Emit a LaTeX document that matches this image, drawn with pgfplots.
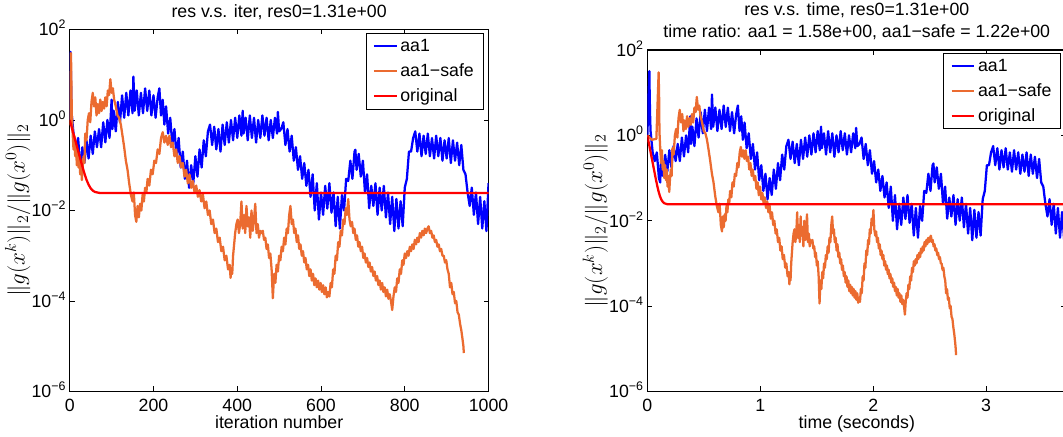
\documentclass[border=0pt]{standalone}
\usepackage{fontspec}
\setmainfont{Liberation Sans}
\usepackage{pgfplots}
\pgfplotsset{compat=1.18}
\usepackage{pgfplotstable}
\definecolor{mblue}{RGB}{0,0,255}
\definecolor{morange}{RGB}{235,107,48}
\definecolor{mred}{RGB}{255,0,0}

\pgfplotstableread{
i t v
0 0 1
1 0.008 5.0
2 0.018 32
3 0.021 7.9
4 0.025 2.5
5 0.0285 1.26
10 0.047 0.40
15 0.0655 0.25
20 0.084 0.40
25 0.1025 0.10
28 0.1136 0.079
30 0.121 0.25
35 0.1395 0.112
40 0.158 0.35
45 0.1765 0.141
50 0.195 0.45
55 0.2135 0.178
60 0.232 0.56
65 0.2505 0.25
70 0.269 0.63
75 0.2875 0.25
80 0.306 0.89
85 0.3245 0.32
90 0.343 1.0
95 0.3615 0.40
100 0.38 2.8
102 0.3874 0.63
105 0.3985 1.6
110 0.417 0.56
115 0.4355 2.5
120 0.454 0.89
125 0.4725 3.5
130 0.491 1.12
135 0.5095 4.0
140 0.528 1.26
145 0.5465 4.5
150 0.565 1.41
152 0.5724 9.1
155 0.5835 1.6
160 0.602 4.5
165 0.6205 1.26
170 0.639 3.98
175 0.6575 1.41
180 0.676 5.0
185 0.6945 1.58
190 0.713 4.47
195 0.7315 1.26
200 0.75 3.5
205 0.7685 1.12
210 0.787 3.16
214 0.8018 5.0
218 0.8166 1.26
222 0.8314 2.8
226 0.8462 0.79
230 0.861 2.0
235 0.8795 0.50
240 0.898 1.12
245 0.9165 0.28
250 0.935 0.63
255 0.9535 0.158
260 0.972 0.40
265 0.9905 0.089
270 1.009 0.20
275 1.0275 5.0e-2
280 1.046 0.126
285 1.0645 3.16e-2
290 1.083 0.10
295 1.1015 4.0e-2
300 1.12 0.158
305 1.1385 5.6e-2
310 1.157 0.224
315 1.1755 8.9e-2
320 1.194 0.355
325 1.2125 0.158
330 1.231 0.56
335 1.2495 0.79
340 1.268 0.28
345 1.2865 0.71
350 1.305 0.224
355 1.3235 0.63
360 1.342 0.20
365 1.3605 0.79
370 1.379 0.28
375 1.3975 0.89
380 1.416 0.316
385 1.4345 1.0
390 1.453 0.355
395 1.4715 1.12
400 1.49 0.40
405 1.5085 1.26
410 1.527 0.45
413 1.5381 1.6
415 1.5455 0.50
420 1.564 1.12
425 1.5825 0.355
430 1.601 1.26
435 1.6195 0.40
440 1.638 1.12
445 1.6565 0.316
450 1.675 1.0
455 1.6935 0.40
460 1.712 1.26
465 1.7305 0.45
470 1.749 1.12
475 1.7675 0.355
480 1.786 1.0
485 1.8045 0.40
490 1.823 1.12
495 1.8415 0.50
497 1.8489 1.5
500 1.86 0.56
505 1.8785 0.63
510 1.897 0.89
515 1.9155 0.28
520 1.934 0.63
525 1.9525 0.20
530 1.971 0.45
535 1.9895 0.126
540 2.008 0.25
545 2.0265 0.079
550 2.045 0.158
555 2.0635 5.0e-2
560 2.082 0.112
565 2.1005 3.5e-2
570 2.119 7.9e-2
575 2.1375 2.0e-2
580 2.156 6.3e-2
585 2.1745 1.0e-2
590 2.193 4.0e-2
595 2.2115 6.3e-3
600 2.23 2.5e-2
605 2.2485 8.0e-3
610 2.267 3.5e-2
615 2.2855 1.1e-2
620 2.304 4.0e-2
625 2.3225 8.9e-3
630 2.341 2.5e-2
635 2.3595 4.5e-3
640 2.378 2.0e-2
645 2.3965 4.0e-3
650 2.415 2.2e-2
655 2.4335 1.0e-2
660 2.452 5.0e-2
665 2.4705 4.5e-2
670 2.489 0.126
675 2.5075 5.0e-2
680 2.526 0.20
682 2.5334 0.22
685 2.5445 7.9e-2
690 2.563 0.178
695 2.5815 5.6e-2
700 2.6 0.126
705 2.6185 2.5e-2
710 2.637 6.3e-2
715 2.6555 1.12e-2
720 2.674 3.5e-2
725 2.6925 1.26e-2
730 2.711 4.0e-2
735 2.7295 8.0e-3
740 2.748 3.2e-2
745 2.7665 1.0e-2
750 2.785 3.5e-2
755 2.8035 7.0e-3
760 2.822 2.5e-2
765 2.8405 5.0e-3
770 2.859 2.0e-2
775 2.8775 3.5e-3
780 2.896 1.8e-2
785 2.9145 4.0e-3
790 2.933 1.6e-2
795 2.9515 4.5e-3
800 2.97 3.2e-2
805 2.9885 5.0e-2
810 3.007 0.20
815 3.0255 0.20
820 3.044 0.40
825 3.0625 0.56
830 3.081 0.20
835 3.0995 0.50
840 3.118 0.158
845 3.1365 0.45
850 3.155 0.178
855 3.1735 0.50
860 3.192 0.158
865 3.2105 0.40
870 3.229 0.141
875 3.2475 0.45
880 3.266 0.158
885 3.2845 0.40
890 3.303 0.126
895 3.3215 0.355
900 3.34 0.141
905 3.3585 0.40
910 3.377 0.112
915 3.3955 0.355
920 3.414 0.126
925 3.4325 0.316
930 3.451 0.10
935 3.4695 0.28
940 3.488 0.079
945 3.5065 6.3e-2
950 3.525 2.5e-2
955 3.5435 1.26e-2
960 3.562 3.2e-2
965 3.5805 8.0e-3
970 3.599 2.5e-2
975 3.6175 5.0e-3
980 3.636 2.0e-2
985 3.6545 4.0e-3
990 3.673 1.6e-2
995 3.6915 3.5e-3
1000 3.71 4.0e-2
}\aaone

\pgfplotstableread{
i t v
0 0 1
1 0.04 0.79
2 0.08 0.83
3 0.10 30
4 0.105 6.3
5 0.107 1.26
7 0.114 0.50
9 0.122 0.224
11 0.129 0.447
13 0.136 0.158
15 0.143 0.251
17 0.150 0.10
19 0.158 0.20
21 0.165 8.9e-2
23 0.172 0.158
25 0.179 6.3e-2
27 0.186 0.112
29 0.194 4.7e-2
31 0.201 0.10
33 0.208 0.158
35 0.215 0.112
37 0.222 0.50
40 0.233 0.355
43 0.244 1.0
46 0.255 1.41
49 0.266 0.89
52 0.276 2.51
55 0.287 3.98
58 0.298 2.0
61 0.309 3.16
64 0.320 1.26
67 0.330 2.24
70 0.341 1.41
73 0.352 2.82
76 0.363 1.58
79 0.374 2.51
82 0.384 1.78
85 0.395 3.16
88 0.406 2.0
91 0.417 4.47
94 0.428 3.55
97 0.438 7.94
100 0.449 3.98
103 0.460 5.0
106 0.471 2.82
110 0.485 2.0
114 0.500 1.26
118 0.514 1.12
122 0.528 0.794
126 0.543 0.447
130 0.557 0.251
134 0.572 0.126
138 0.586 7.94e-2
142 0.600 3.98e-2
146 0.615 2.24e-2
150 0.629 1.58e-2
153 0.640 2.51e-2
156 0.651 7.94e-3
159 0.661 5.62e-3
162 0.669 1.26e-2
165 0.677 7.08e-3
168 0.685 1.41e-2
171 0.693 1.0e-2
174 0.701 2.24e-2
177 0.709 1.58e-2
180 0.717 3.16e-2
183 0.725 2.51e-2
186 0.733 5.0e-2
190 0.744 3.55e-2
194 0.754 7.94e-2
198 0.765 6.31e-2
202 0.775 0.126
206 0.786 0.112
210 0.797 0.224
214 0.807 0.178
218 0.818 0.398
222 0.828 0.537
226 0.839 0.316
230 0.850 0.447
234 0.860 0.282
238 0.871 0.447
242 0.881 0.251
246 0.892 0.316
250 0.903 0.158
254 0.913 0.224
258 0.924 0.112
262 0.934 0.158
266 0.945 8.91e-2
270 0.956 0.112
274 0.966 5.62e-2
278 0.977 7.94e-2
282 0.987 3.98e-2
286 0.998 6.31e-2
290 1.009 3.16e-2
294 1.019 4.47e-2
298 1.030 2.51e-2
302 1.040 3.55e-2
306 1.051 2.0e-2
310 1.062 2.82e-2
314 1.072 1.58e-2
318 1.083 2.24e-2
322 1.093 1.12e-2
326 1.104 1.58e-2
330 1.115 7.94e-3
334 1.125 1.0e-2
338 1.136 5.0e-3
342 1.146 6.31e-3
346 1.157 3.16e-3
350 1.168 3.98e-3
354 1.178 2.0e-3
358 1.189 2.51e-3
362 1.199 1.26e-3
366 1.210 1.58e-3
370 1.221 7.94e-4
374 1.231 1.0e-3
378 1.242 5.0e-4
382 1.252 6.31e-4
384 1.258 3.24e-4
386 1.263 5.0e-4
388 1.268 3.98e-4
390 1.274 1.0e-3
392 1.279 1.58e-3
395 1.287 3.16e-3
398 1.295 5.0e-3
401 1.303 6.31e-3
404 1.311 3.16e-3
407 1.319 5.0e-3
410 1.327 1.58e-2
413 1.334 3.98e-3
416 1.342 7.94e-3
419 1.350 3.16e-3
422 1.358 1.26e-2
425 1.366 4.47e-3
428 1.374 7.08e-3
431 1.382 2.51e-3
434 1.390 1.0e-2
437 1.398 3.55e-3
440 1.406 6.31e-3
443 1.414 1.41e-2
446 1.422 3.16e-3
449 1.430 5.0e-3
452 1.438 2.51e-3
455 1.446 3.55e-3
458 1.454 3.16e-3
461 1.462 3.55e-3
464 1.470 2.24e-3
467 1.478 2.51e-3
470 1.486 1.41e-3
473 1.493 1.78e-3
476 1.501 8.91e-4
479 1.509 1.12e-3
482 1.517 5.0e-4
485 1.525 1.15e-4
488 1.533 3.98e-4
491 1.541 2.51e-4
494 1.549 6.31e-4
497 1.557 4.47e-4
500 1.565 1.0e-3
503 1.573 7.94e-4
506 1.581 1.58e-3
509 1.589 1.26e-3
512 1.597 2.51e-3
515 1.605 1.78e-3
518 1.613 3.98e-3
521 1.621 3.16e-3
524 1.629 7.94e-3
527 1.637 1.26e-2
530 1.645 5.0e-3
533 1.652 6.31e-3
536 1.660 3.16e-3
539 1.668 3.98e-3
542 1.676 2.0e-3
545 1.684 2.82e-3
548 1.692 1.41e-3
551 1.700 1.78e-3
554 1.708 1.0e-3
557 1.716 1.26e-3
560 1.724 7.08e-4
563 1.732 8.91e-4
566 1.740 5.0e-4
569 1.748 6.31e-4
572 1.756 3.55e-4
575 1.764 5.0e-4
578 1.772 2.82e-4
581 1.780 3.98e-4
584 1.788 2.24e-4
587 1.796 3.16e-4
590 1.804 2.0e-4
593 1.811 2.82e-4
596 1.819 1.78e-4
599 1.827 2.51e-4
602 1.835 1.58e-4
605 1.843 2.24e-4
608 1.851 1.41e-4
611 1.859 2.0e-4
614 1.867 1.2e-4
617 1.875 1.58e-4
620 1.883 1.26e-4
623 1.891 2.51e-4
626 1.899 2.0e-4
629 1.907 5.0e-4
632 1.915 3.98e-4
635 1.923 1.0e-3
638 1.931 7.94e-4
641 1.939 2.0e-3
644 1.947 1.58e-3
647 1.955 3.55e-3
650 1.963 2.82e-3
653 1.970 6.31e-3
656 1.978 5.0e-3
659 1.986 1.12e-2
662 1.994 7.94e-3
665 2.002 1.78e-2
668 2.010 6.31e-3
671 2.018 4.47e-3
674 2.026 5.62e-3
677 2.034 3.16e-3
680 2.042 3.98e-3
683 2.050 2.24e-3
686 2.058 2.82e-3
689 2.066 1.58e-3
692 2.074 2.0e-3
695 2.082 1.26e-3
698 2.090 1.58e-3
701 2.098 8.91e-4
704 2.106 1.12e-3
707 2.114 7.08e-4
710 2.122 8.91e-4
713 2.129 5.62e-4
716 2.137 7.08e-4
719 2.145 4.47e-4
722 2.153 5.62e-4
725 2.161 3.55e-4
728 2.169 4.47e-4
731 2.177 2.82e-4
734 2.185 3.55e-4
737 2.193 2.24e-4
740 2.201 2.82e-4
743 2.209 1.78e-4
746 2.217 2.51e-4
749 2.225 1.58e-4
752 2.233 2.0e-4
755 2.241 1.26e-4
758 2.249 1.78e-4
761 2.257 1.12e-4
764 2.265 1.41e-4
767 2.273 1.0e-4
770 2.281 6.31e-5
773 2.288 1.26e-4
776 2.296 2.0e-4
779 2.304 1.58e-4
782 2.312 3.16e-4
785 2.320 2.51e-4
788 2.328 5.0e-4
791 2.336 3.98e-4
794 2.344 7.94e-4
797 2.352 6.31e-4
800 2.360 1.12e-3
803 2.368 8.91e-4
806 2.376 1.26e-3
809 2.384 1.0e-3
812 2.392 1.58e-3
815 2.400 1.26e-3
818 2.408 1.78e-3
821 2.416 1.41e-3
824 2.424 2.24e-3
827 2.432 1.78e-3
830 2.440 2.51e-3
833 2.447 2.0e-3
836 2.455 3.16e-3
839 2.463 2.51e-3
842 2.471 3.55e-3
845 2.479 2.82e-3
848 2.487 3.98e-3
851 2.495 3.16e-3
854 2.503 3.98e-3
857 2.511 4.47e-3
860 2.519 3.16e-3
863 2.527 3.55e-3
866 2.535 2.51e-3
869 2.543 2.82e-3
872 2.551 2.0e-3
875 2.559 2.24e-3
878 2.567 1.58e-3
881 2.575 1.78e-3
884 2.583 1.26e-3
887 2.591 1.41e-3
890 2.599 1.0e-3
893 2.606 1.0e-3
896 2.614 7.08e-4
899 2.622 7.94e-4
902 2.630 5.0e-4
905 2.638 3.98e-4
908 2.646 2.0e-4
911 2.654 2.51e-4
914 2.662 1.41e-4
917 2.670 1.58e-4
920 2.678 8.91e-5
923 2.686 1.0e-4
926 2.694 5.62e-5
929 2.702 5.0e-5
932 2.710 3.16e-5
935 2.718 2.24e-5
938 2.726 1.41e-5
940 2.731 1.0e-5
941 2.734 7.08e-6
}\aasafe

\pgfplotstableread{
i t v
0 0 1
5 0.0125 0.676
10 0.025 0.457
15 0.0375 0.309
20 0.05 0.209
25 0.0625 0.141
30 0.075 9.55e-2
35 0.0875 6.61e-2
40 0.10 4.79e-2
45 0.1125 3.72e-2
50 0.125 3.09e-2
55 0.1375 2.75e-2
60 0.15 2.57e-2
70 0.175 2.45e-2
80 0.2 2.43e-2
1000 3.71 2.43e-2
}\orig

\begin{document}
\begin{tikzpicture}[x=1pt,y=1pt]
\path[use as bounding box] (0,0) rectangle (797.25,327);
\clip (0,0) rectangle (797.25,327);
\begin{axis}[
  scale only axis,
  at={(52.3pt,33.4pt)}, anchor=south west,
  width=314.1pt, height=271.5pt,
  ymode=log, ymin=1e-6, ymax=1e2,
  ytick={1e-6,1e-4,1e-2,1,1e2},
  yticklabels={10\textsuperscript{−6},10\textsuperscript{−4},10\textsuperscript{−2},10\textsuperscript{0},10\textsuperscript{2}},
  yminorticks=false, xminorticks=false,
  tick align=inside, major tick length=3.75pt,
  tick style={black, line width=0.6pt},
  axis line style={line width=0.9pt},
  /pgf/number format/assume math mode=true,
  /pgf/number format/1000 sep={},
  tick label style={font=\fontsize{13.3}{16}\selectfont},
  xticklabel style={anchor=base, yshift=-14.8pt, inner sep=0pt},
  yticklabel style={anchor=base east, xshift=-2.5pt, yshift=-4.76pt, inner sep=0pt},
  xlabel style={at={(axis description cs:0.5,0)}, anchor=base, yshift=-27.75pt, inner sep=0pt, font=\fontsize{13.3}{16}\selectfont},
  ylabel style={at={(axis description cs:-0.1242,0.5)}, anchor=center, inner sep=0pt, font=\fontsize{17}{17}\selectfont},
  title style={at={(axis description cs:0.5,1)}, anchor=south, yshift=1.3pt, inner sep=0pt, align=center, font=\fontsize{13.3}{16.5}\selectfont},
  legend cell align=left,
  legend style={at={(1,1)}, anchor=north east, xshift=-3.75pt, yshift=-3pt,
    draw=black, line width=0.6pt, fill=white,
    font=\fontsize{13.3}{16}\selectfont,
    inner xsep=5pt, inner ysep=2pt, row sep=3.7pt},
  xmin=0, xmax=1000, xtick={0,200,400,600,800,1000},
  xlabel={iteration number},
  ylabel={$\|g(x^k)\|_2/\|g(x^0)\|_2$},
  title={res v.s. iter, res0=1.31e+00}]
\addplot[mblue, line width=1.7pt, line join=round] table[x=i,y=v]{\aaone};
\addlegendentry{aa1}
\addplot[morange, line width=1.7pt, line join=round] table[x=i,y=v]{\aasafe};
\addlegendentry{aa1−safe}
\addplot[mred, line width=1.7pt, line join=round] table[x=i,y=v]{\orig};
\addlegendentry{original}
\end{axis}
\begin{axis}[
  scale only axis,
  at={(485.5pt,33.4pt)}, anchor=south west,
  width=314.2pt, height=256.1pt,
  ymode=log, ymin=1e-6, ymax=1e2,
  ytick={1e-6,1e-4,1e-2,1,1e2},
  yticklabels={10\textsuperscript{−6},10\textsuperscript{−4},10\textsuperscript{−2},10\textsuperscript{0},10\textsuperscript{2}},
  yminorticks=false, xminorticks=false,
  tick align=inside, major tick length=3.75pt,
  tick style={black, line width=0.6pt},
  axis line style={line width=0.9pt},
  /pgf/number format/assume math mode=true,
  /pgf/number format/1000 sep={},
  tick label style={font=\fontsize{13.3}{16}\selectfont},
  xticklabel style={anchor=base, yshift=-14.8pt, inner sep=0pt},
  yticklabel style={anchor=base east, xshift=-2.5pt, yshift=-4.76pt, inner sep=0pt},
  xlabel style={at={(axis description cs:0.5,0)}, anchor=base, yshift=-27.75pt, inner sep=0pt, font=\fontsize{13.3}{16}\selectfont},
  ylabel style={at={(axis description cs:-0.1241,0.5)}, anchor=center, inner sep=0pt, font=\fontsize{17}{17}\selectfont},
  title style={at={(axis description cs:0.5,1)}, anchor=south, yshift=1.5pt, inner sep=0pt, align=center, font=\fontsize{13.3}{16.5}\selectfont},
  legend cell align=left,
  legend style={at={(1,1)}, anchor=north east, xshift=-3.75pt, yshift=-2.5pt,
    draw=black, line width=0.6pt, fill=white,
    font=\fontsize{13.3}{16}\selectfont,
    inner xsep=5pt, inner ysep=2pt, row sep=3.7pt},
  xmin=0, xmax=3.71, xtick={0,1,2,3},
  xlabel={time (seconds)},
  ylabel={$\|g(x^k)\|_2/\|g(x^0)\|_2$},
  title={res v.s. time, res0=1.31e+00\\time ratio: aa1 = 1.58e+00, aa1−safe = 1.22e+00}]
\addplot[mblue, line width=1.7pt, line join=round] table[x=t,y=v]{\aaone};
\addlegendentry{aa1}
\addplot[morange, line width=1.7pt, line join=round] table[x=t,y=v]{\aasafe};
\addlegendentry{aa1−safe}
\addplot[mred, line width=1.7pt, line join=round] table[x=t,y=v]{\orig};
\addlegendentry{original}
\end{axis}
\end{tikzpicture}
\end{document}
